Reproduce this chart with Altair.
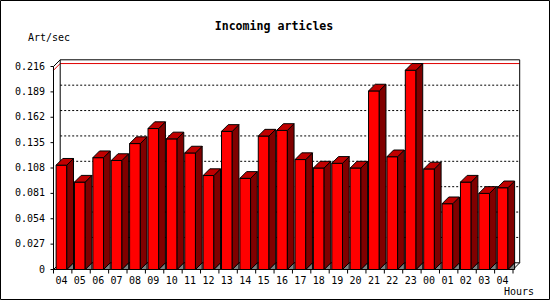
import altair as alt
import pandas as pd

# ---------------- data ----------------
hours = ["04", "05", "06", "07", "08", "09", "10", "11", "12", "13", "14", "15", "16",
         "17", "18", "19", "20", "21", "22", "23", "00", "01", "02", "03", "04"]
values = [0.111, 0.093, 0.119, 0.116, 0.134, 0.150, 0.139, 0.124, 0.100, 0.147, 0.097,
          0.142, 0.148, 0.117, 0.108, 0.113, 0.108, 0.190, 0.120, 0.212, 0.107, 0.070,
          0.093, 0.081, 0.087]
y_ticks = [0, 0.027, 0.054, 0.081, 0.108, 0.135, 0.162, 0.189, 0.216]
y_tick_labels = ["0", "0.027", "0.054", "0.081", "0.108", "0.135", "0.162", "0.189", "0.216"]
title_text = "Incoming articles"
y_title = "Art/sec"
x_title = "Hours"

# ---------------- layout (pixels) ----------------
W, H = 550, 300
X0, X1 = 53.5, 513.0      # front plane, left/right
Y0, Y1 = 269.5, 66.5      # front plane, bottom/top
DEPTH = 6.7               # 3d depth in px
BAR_OFF = 2.6             # px from slot start to bar front
BAR_W = 10.7              # px width of bar front
FONT = "DejaVu Sans Mono"

n = len(values)
YMAX = y_ticks[-1]
ux = n / (X1 - X0)        # data units per px (x)
uy = YMAX / (Y0 - Y1)     # data units per px (y)
dx, dy = DEPTH * ux, DEPTH * uy
off, bw = BAR_OFF * ux, BAR_W * ux

xs = alt.Scale(domain=[0, n], range=[X0, X1], nice=False, zero=False)
ys = alt.Scale(domain=[0, YMAX], range=[Y0, Y1], nice=False, zero=False)

# ---------------- derived tables (closed polygons) ----------------
front = pd.DataFrame({
    "x": [i + off for i in range(n)],
    "x2": [i + off + bw for i in range(n)],
    "y": [0.0] * n,
    "y2": values,
})

side_rows, top_rows, floor_rows = [], [], []
for i, v in enumerate(values):
    xl, xr = i + off, i + off + bw
    for k, (px, py) in enumerate([(xr, 0.0), (xr + dx, dy), (xr + dx, v + dy), (xr, v), (xr, 0.0)]):
        side_rows.append(dict(g=i, o=k, x=px, y=py))
    for k, (px, py) in enumerate([(xl, v), (xr, v), (xr + dx, v + dy), (xl + dx, v + dy), (xl, v)]):
        top_rows.append(dict(g=i, o=k, x=px, y=py))
    for k, (px, py) in enumerate([(xr, 0.0), (xr + dx, dy), (xr + dx, 0.0), (xr, 0.0)]):
        floor_rows.append(dict(g=i, o=k, x=px, y=py))
side = pd.DataFrame(side_rows)
top = pd.DataFrame(top_rows)
floor = pd.DataFrame(floor_rows)

box = pd.DataFrame([
    dict(x=dx, x2=n + dx, y=YMAX + dy, y2=YMAX + dy),
    dict(x=dx, x2=n + dx, y=dy, y2=dy),
    dict(x=dx, x2=dx, y=dy, y2=YMAX + dy),
    dict(x=n + dx, x2=n + dx, y=dy, y2=YMAX + dy),
    dict(x=0, x2=0, y=0, y2=YMAX),
    dict(x=0, x2=n, y=0, y2=0),
    dict(x=0, x2=dx, y=YMAX, y2=YMAX + dy),
    dict(x=0, x2=dx, y=0, y2=dy),
    dict(x=n, x2=n + dx, y=0, y2=dy),
])
grid = pd.DataFrame([dict(x=dx, x2=n + dx, y=t + dy, y2=t + dy) for t in y_ticks[1:-1]])
vmax = max(values)
maxline = pd.DataFrame([
    dict(x=0, x2=dx, y=vmax, y2=vmax + dy),
    dict(x=dx, x2=n + dx, y=vmax + dy, y2=vmax + dy),
])
xtick = pd.DataFrame({"x": list(range(n + 1))})
xlab = pd.DataFrame({"x": [i + off + bw / 2 for i in range(n)], "t": hours})
ylab = pd.DataFrame({"v": y_ticks, "t": y_tick_labels})


def seg(df, **kw):
    return alt.Chart(df).mark_rule(**kw).encode(
        x=alt.X("x:Q", scale=xs, axis=None), x2="x2:Q",
        y=alt.Y("y:Q", scale=ys, axis=None), y2="y2:Q")


def poly(df, color):
    return alt.Chart(df).mark_line(fill=color, stroke="black", strokeWidth=1,
                                   interpolate="linear-closed").encode(
        x=alt.X("x:Q", scale=xs, axis=None),
        y=alt.Y("y:Q", scale=ys, axis=None),
        detail="g:N", order="o:Q")


grid_l = seg(grid, color="black", strokeDash=[2, 2], strokeWidth=1)
box_l = seg(box, color="black", strokeWidth=1)
max_l = seg(maxline, color="#e00000", strokeWidth=1)
floor_l = poly(floor, "#808080")
front_l = alt.Chart(front).mark_rect(fill="#ff0000", stroke="black", strokeWidth=1).encode(
    x=alt.X("x:Q", scale=xs, axis=None), x2="x2:Q",
    y=alt.Y("y:Q", scale=ys, axis=None), y2="y2:Q")
side_l = poly(side, "#800000")
top_l = poly(top, "#c00000")

xtick_l = alt.Chart(xtick).mark_rule(color="black").encode(
    x=alt.X("x:Q", scale=xs, axis=None), y=alt.value(Y0), y2=alt.value(Y0 + 4))
ytick_l = alt.Chart(ylab).mark_rule(color="black").encode(
    y=alt.Y("v:Q", scale=ys, axis=None), x=alt.value(X0 - 3), x2=alt.value(X0))
xlab_l = alt.Chart(xlab).mark_text(font=FONT, fontSize=10, baseline="alphabetic",
                                   align="center", color="black").encode(
    x=alt.X("x:Q", scale=xs, axis=None), y=alt.value(Y0 + 14), text="t:N")
ylab_l = alt.Chart(ylab).mark_text(font=FONT, fontSize=10, baseline="middle",
                                   align="right", color="black").encode(
    y=alt.Y("v:Q", scale=ys, axis=None), x=alt.value(45), text="t:N")

one = pd.DataFrame({"t": [title_text], "a": [y_title], "h": [x_title]})
title_l = alt.Chart(one).mark_text(font=FONT, fontSize=11.6, fontWeight="bold",
                                   align="center", baseline="middle", color="black").encode(
    x=alt.value(274), y=alt.value(27), text="t:N")
ytitle_l = alt.Chart(one).mark_text(font=FONT, fontSize=10, align="left",
                                    baseline="middle", color="black").encode(
    x=alt.value(28), y=alt.value(38), text="a:N")
xtitle_l = alt.Chart(one).mark_text(font=FONT, fontSize=10, align="right",
                                    baseline="middle", color="black").encode(
    x=alt.value(534), y=alt.value(292), text="h:N")
frame_l = alt.Chart(one).mark_rect(fill=None, stroke="black", strokeWidth=1).encode(
    x=alt.value(0.5), x2=alt.value(W - 0.5), y=alt.value(0.5), y2=alt.value(H - 0.5))

chart = alt.layer(
    grid_l, max_l, box_l, floor_l, front_l, side_l, top_l,
    xtick_l, ytick_l, xlab_l, ylab_l, title_l, ytitle_l, xtitle_l, frame_l,
).properties(
    width=W, height=H, background="white", padding=0,
    autosize=alt.AutoSizeParams(type="none"),
).configure_view(stroke=None)

chart.save("out.html", embed_options={"renderer": "svg", "actions": False})
